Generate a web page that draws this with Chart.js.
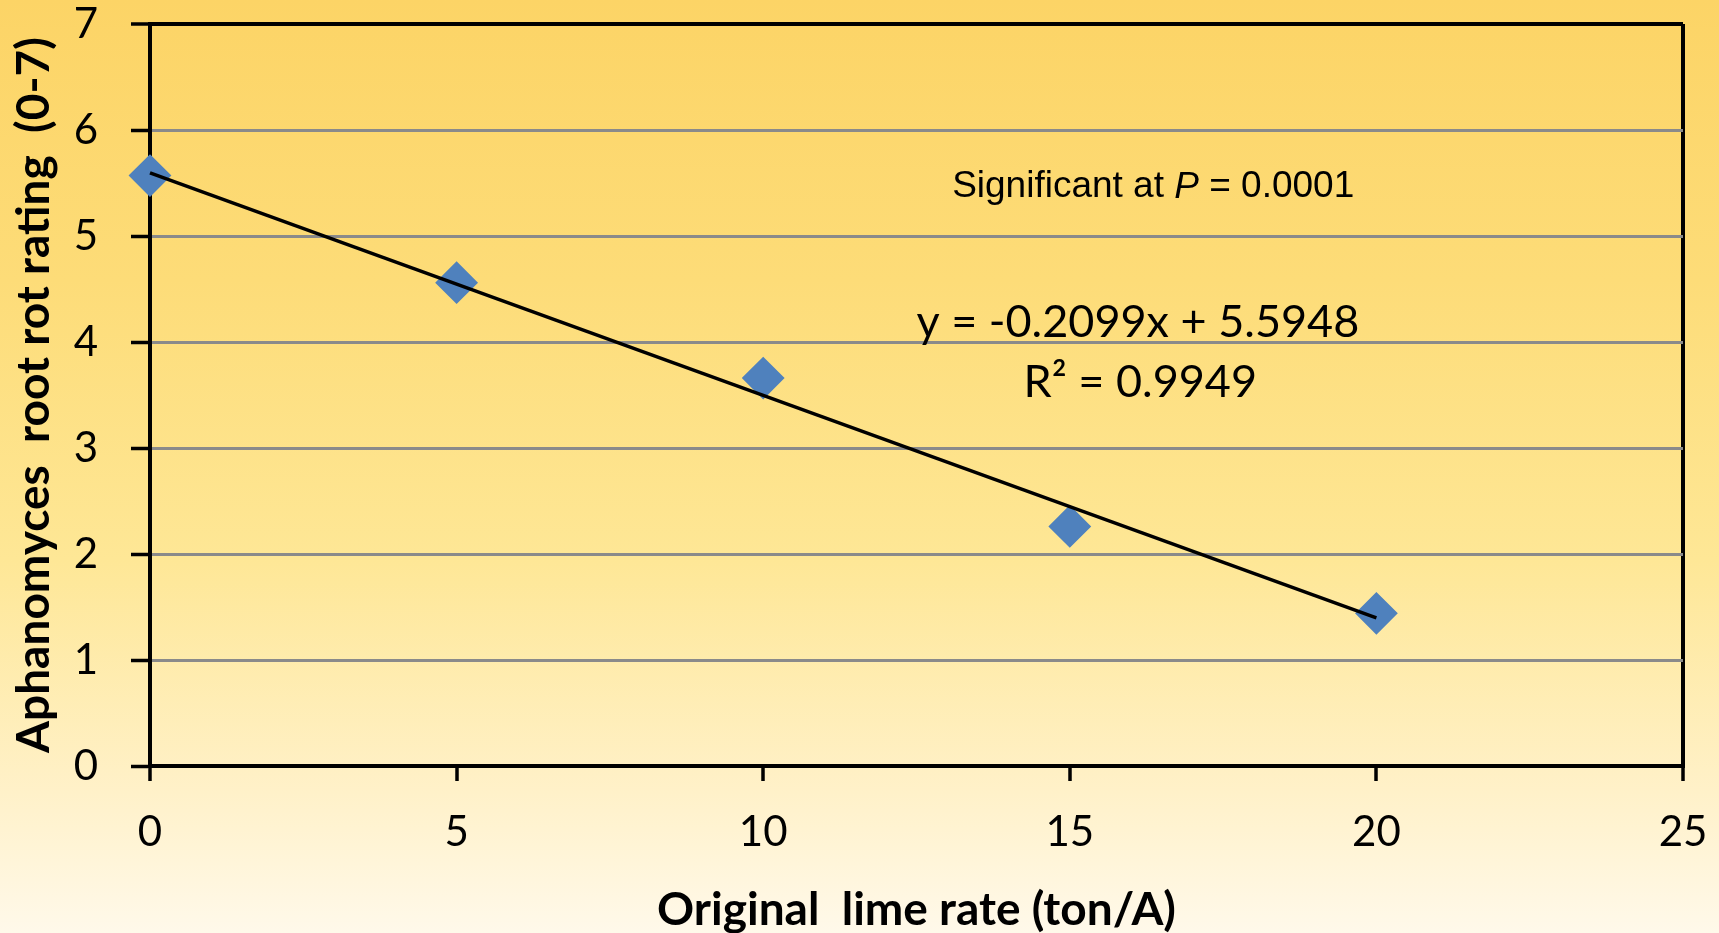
<!DOCTYPE html>
<html>
<head>
<meta charset="utf-8">
<script src="https://cdn.jsdelivr.net/npm/chart.js@4.4.1/dist/chart.umd.min.js"></script>
<style>
  html, body { margin: 0; padding: 0; }
  body {
    width: 1719px; height: 933px; overflow: hidden;
    background: linear-gradient(to bottom, #fcd466 0%, #fddc78 30%, #fee796 60%, #fff1c9 85%, #fff9ea 100%);
  }
  #wrap { width: 1719px; height: 933px; position: relative; }
</style>
</head>
<body>
<div id="wrap"><canvas id="myChart"></canvas></div>
<script>
// data
const limeRates = [0, 5, 10, 15, 20];
const rootRotRatings = [5.57, 4.56, 3.66, 2.26, 1.44];
const trendSlope = -0.2099;
const trendIntercept = 5.5948;
const yTickValues = [0, 1, 2, 3, 4, 5, 6, 7];
const xTickValues = [0, 5, 10, 15, 20, 25];

const equationText = 'y = -0.2099x + 5.5948';
const rSquaredText = 'R\u00B2 = 0.9949';

const points = limeRates.map((x, i) => ({ x: x, y: rootRotRatings[i] }));
const trendPoints = [limeRates[0], limeRates[limeRates.length - 1]].map(x => ({ x: x, y: trendSlope * x + trendIntercept }));

// texts drawn on the plot (significance and trendline equation)
const noteLayer = {
    id: 'noteLayer',
    afterDatasetsDraw(chart) {
        const ctx = chart.ctx;
        const xs = chart.scales.x;
        const ys = chart.scales.y;
        ctx.save();
        ctx.fillStyle = '#000';
        ctx.textBaseline = 'middle';

        // Significant at P = 0.0001
        const parts = [
            ['Significant at ', '37px "Liberation Sans"'],
            ['P', 'italic 37px "Liberation Sans"'],
            [' = 0.0001', '37px "Liberation Sans"']
        ];
        let total = 0;
        parts.forEach(p => { ctx.font = p[1]; total += ctx.measureText(p[0]).width; });
        let cx = xs.getPixelForValue(16.36) - total / 2;
        const cy = ys.getPixelForValue(5.46);
        ctx.textAlign = 'left';
        parts.forEach(p => {
            ctx.font = p[1];
            ctx.fillText(p[0], cx, cy);
            cx += ctx.measureText(p[0]).width;
        });

        ctx.textAlign = 'center';
        ctx.font = '45px Lato';
        ctx.fillText(equationText, xs.getPixelForValue(16.11), ys.getPixelForValue(4.18));
        ctx.fillText(rSquaredText, xs.getPixelForValue(16.15), ys.getPixelForValue(3.62));
        ctx.restore();
    }
};

// no extra room for tick labels, the plot box is fixed by layout padding
function noScalePadding(s) {
    s.paddingTop = 0;
    s.paddingBottom = 0;
    s.paddingLeft = 0;
    s.paddingRight = 0;
}

document.addEventListener('DOMContentLoaded', function () {
    const ctx = document.getElementById('myChart').getContext('2d');
    new Chart(ctx, {
        type: 'scatter',
        data: {
            datasets: [{
                label: 'Trend',
                type: 'line',
                data: trendPoints,
                borderColor: '#000',
                borderWidth: 3.5,
                pointRadius: 0,
                fill: false,
                clip: false,
                order: 0
            }, {
                label: 'Root rot rating',
                data: points,
                pointStyle: 'rectRot',
                pointRadius: 20,
                pointHoverRadius: 20,
                backgroundColor: '#4f81bd',
                borderColor: '#4f81bd',
                borderWidth: 2,
                clip: false,
                order: 1
            }]
        },
        options: {
            responsive: true,
            maintainAspectRatio: false,
            animation: false,
            layout: { padding: { top: 24, right: 36, left: 0, bottom: 0 } },
            plugins: {
                legend: { display: false },
                tooltip: { enabled: false }
            },
            scales: {
                x: {
                    type: 'linear',
                    min: 0,
                    max: 25,
                    afterBuildTicks: s => { s.ticks = xTickValues.map(v => ({ value: v })); },
                    afterFit: s => { s.height = 167; noScalePadding(s); },
                    border: { color: '#000', width: 4 },
                    grid: {
                        color: c => c.tick && c.tick.value === 25 ? '#000' : 'rgba(0,0,0,0)',
                        lineWidth: 4,
                        tickColor: '#000',
                        tickWidth: 3.5,
                        tickLength: 15
                    },
                    ticks: {
                        color: '#000',
                        padding: 26,
                        font: { family: 'Lato', size: 42 }
                    },
                    title: {
                        display: true,
                        text: 'Original  lime rate (ton/A)',
                        color: '#000',
                        padding: { top: 0, bottom: 0 },
                        font: { family: 'Lato', size: 46, weight: 'bold', lineHeight: 1 }
                    }
                },
                y: {
                    min: 0,
                    max: 7,
                    afterBuildTicks: s => { s.ticks = yTickValues.map(v => ({ value: v })); },
                    afterFit: s => { s.width = 150; noScalePadding(s); },
                    border: { color: '#000', width: 4 },
                    grid: {
                        color: c => c.tick && c.tick.value === 7 ? '#000' : '#8a8a8a',
                        lineWidth: c => c.tick && c.tick.value === 7 ? 4 : 3,
                        tickColor: '#000',
                        tickWidth: 3.5,
                        tickLength: 19
                    },
                    ticks: {
                        color: '#000',
                        padding: 33,
                        font: { family: 'Lato', size: 42 }
                    },
                    title: {
                        display: true,
                        text: 'Aphanomyces  root rot rating  (0-7)',
                        color: '#000',
                        padding: { top: 11, bottom: 0 },
                        font: { family: 'Lato', size: 46, weight: 'bold', lineHeight: 1 }
                    }
                }
            }
        },
        plugins: [noteLayer]
    });
});
</script>
</body>
</html>
